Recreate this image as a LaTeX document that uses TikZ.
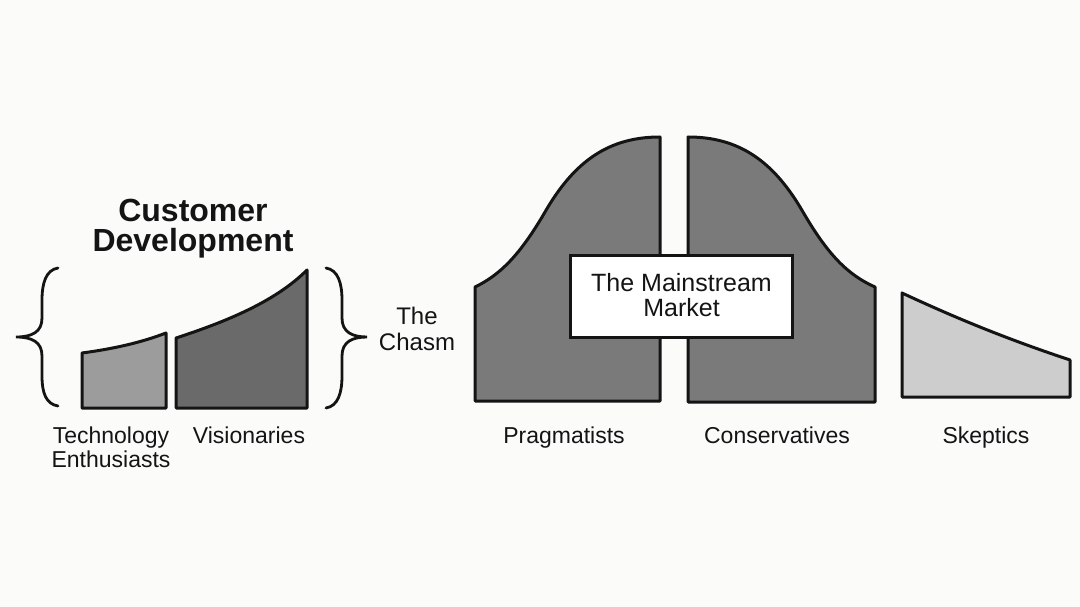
\documentclass[tikz,border=0pt]{standalone}
\usepackage{fontspec}
\setmainfont{Liberation Sans}
\definecolor{bgc}{HTML}{FBFBFA}
\definecolor{techc}{HTML}{9C9C9C}
\definecolor{visc}{HTML}{6A6A6A}
\definecolor{mainc}{HTML}{7A7A7A}
\definecolor{skepc}{HTML}{CDCDCD}
\definecolor{inkc}{HTML}{141414}
\begin{document}
\begin{tikzpicture}[x=1pt,y=-1pt,
  segment/.style={draw=inkc,line width=3pt,line join=round},
  brc/.style={draw=inkc,line width=2.8pt,line cap=round},
  lbl/.style={font=\fontsize{23}{24}\selectfont,text=inkc,align=center,inner sep=0pt},
  title/.style={font=\bfseries\fontsize{32}{30}\selectfont,text=inkc,align=center,inner sep=0pt}]
\useasboundingbox[fill=bgc] (0,0) rectangle (1080,607);
% title
\node[title] (cd) at (193,229) {Customer\\Development};
% braces
\draw[brc] (58,268) .. controls (46,270) and (42,283) .. (42,300) -- (42,318)
  .. controls (42,332) and (32,337) .. (16,337)
  .. controls (32,337) and (42,342) .. (42,356) -- (42,376)
  .. controls (42,393) and (46,404) .. (58,406);
\draw[brc] (326,268) .. controls (338,270) and (342,283) .. (342,300) -- (342,318)
  .. controls (342,332) and (352,337) .. (367,337)
  .. controls (352,337) and (342,342) .. (342,356) -- (342,376)
  .. controls (342,393) and (338,406) .. (326,408);
% technology enthusiasts
\path[segment,fill=techc] (82,408) -- (82,353) .. controls (112,349) and (140,343) .. (166,333) -- (166,408) -- cycle;
% visionaries
\path[segment,fill=visc] (176,408) -- (176,338) .. controls (225,322) and (275,302) .. (307,270) -- (307,408) -- cycle;
% pragmatists
\path[segment,fill=mainc] (475,401) -- (475,287)
  .. controls (500,275) and (520,255) .. (545,212)
  .. controls (575,160) and (610,137) .. (660,137) -- (660,401) -- cycle;
% conservatives
\path[segment,fill=mainc] (688,402) -- (688,137)
  .. controls (738,137) and (773,160) .. (803,212)
  .. controls (828,255) and (848,275) .. (875,287) -- (875,402) -- cycle;
% skeptics
\path[segment,fill=skepc] (902,397) -- (902,293) .. controls (960,320) and (1010,340) .. (1070,360) -- (1070,397) -- cycle;
% mainstream box
\node[draw=inkc,line width=3pt,fill=white,minimum width=222pt,minimum height=82pt,inner sep=0pt] (mmbox) at (681.5,296.5) {};
\node[lbl,font=\fontsize{25}{25}\selectfont] (mm) at (681.5,295) {The Mainstream\\Market};
% chasm
\node[lbl,font=\fontsize{24}{26}\selectfont] (chasm) at (417,329) {The\\Chasm};
% labels
\node[lbl,anchor=north] (tech) at (111,427) {Technology\\Enthusiasts};
\node[lbl,anchor=north] (vis) at (249,427) {Visionaries};
\node[lbl,anchor=north] (prag) at (564,427) {Pragmatists};
\node[lbl,anchor=north] (cons) at (777,427) {Conservatives};
\node[lbl,anchor=north] (skep) at (986,427) {Skeptics};
\end{tikzpicture}
\end{document}
